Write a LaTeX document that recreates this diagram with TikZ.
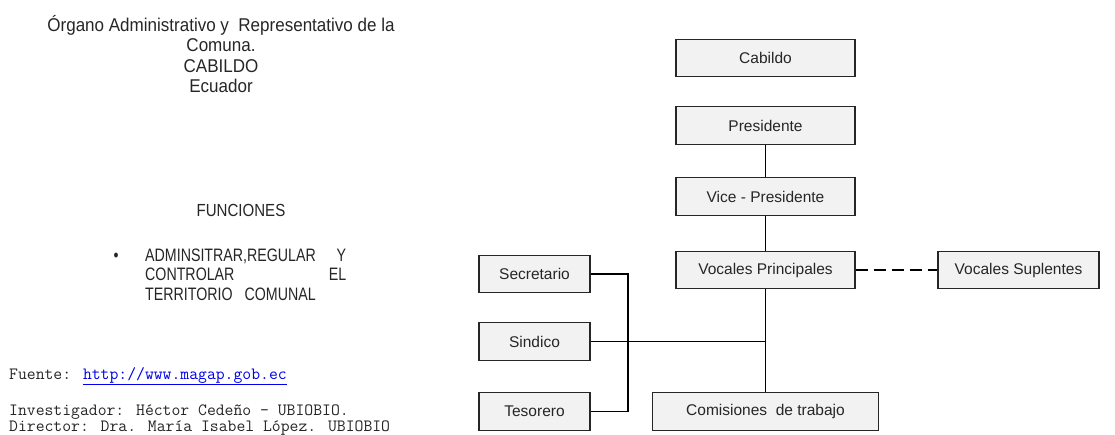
\documentclass[tikz,border=0pt]{standalone}
\usepackage{fontspec}
\setmainfont{Liberation Sans}
\newfontfamily\leftA[FakeStretch=0.92]{Liberation Sans}
\newfontfamily\leftB[FakeStretch=0.79]{Liberation Sans}
\newfontfamily\leftC[FakeStretch=0.86]{Liberation Sans}
\definecolor{boxfill}{HTML}{F2F2F2}
\definecolor{boxline}{HTML}{262626}
\definecolor{linkblue}{HTML}{0000EE}
\begin{document}
\begin{tikzpicture}[x=1pt,y=-1pt,
  orgbox/.style={draw=boxline,line width=1.1pt,fill=boxfill,minimum height=37.5pt,inner sep=0pt,font=\fontsize{15.5}{18}\selectfont,text=black!85},
  conn/.style={line width=1.8pt,black},
  dconn/.style={line width=1.8pt,black,dash pattern=on 12pt off 6pt},
  lefttext/.style={font=\leftA\fontsize{18.5}{20.5}\selectfont,text=black!85,inner sep=0pt},
  funtext/.style={font=\leftC\fontsize{17.5}{20.5}\selectfont,text=black!85,inner sep=0pt},
  bultext/.style={font=\leftB\fontsize{18}{19.5}\selectfont,text=black!85,inner sep=0pt},
  foot/.style={font=\ttfamily\fontsize{17.2}{16.5}\selectfont,text=black!85,inner sep=0pt,anchor=west,align=left}]
\useasboundingbox[fill=white] (0,0) rectangle (1115,434);

% left texts
\node[lefttext,align=center] (title) at (221,54) {Órgano Administrativo y\ \ Representativo de la\\Comuna.\\CABILDO\\ Ecuador};
\node[funtext] (fun) at (241,210) {FUNCIONES};
\node[bultext] (bul) at (116,257.5) {\textbullet};
\node[bultext,anchor=north west,text width=201pt,align=left] (fntext) at (145,248.5)
  {\mbox{ADMINSITRAR,REGULAR}\hfill Y\\CONTROLAR\hfill EL\\TERRITORIO\ \ COMUNAL};

\node[foot] (fuente) at (9,376) {Fuente: {\color{linkblue}\underline{http://www.magap.gob.ec}}};
\node[foot] (inv) at (9,420) {Investigador: Héctor Cedeño – UBIOBIO.\\Director: Dra. María Isabel López. UBIOBIO};

% boxes
\node[orgbox,minimum width=179pt] (cab) at (765.5,58) {Cabildo};
\node[orgbox,minimum width=179pt] (pre) at (765.5,125.5) {Presidente};
\node[orgbox,minimum width=179pt] (vice) at (765.5,196.5) {Vice - Presidente};
\node[orgbox,minimum width=179pt] (vp) at (765.5,270) {Vocales Principales};
\node[orgbox,minimum width=161pt] (vs) at (1018.5,270) {Vocales Suplentes};
\node[orgbox,minimum width=226pt] (com) at (765.5,411.5) {Comisiones\ \ de trabajo};
\node[orgbox,minimum width=111pt] (sec) at (534.5,274) {Secretario};
\node[orgbox,minimum width=111pt] (sin) at (534.5,341.5) {Sindico};
\node[orgbox,minimum width=111pt] (tes) at (534.5,411.5) {Tesorero};

% connectors
\coordinate (bt) at (628,274);
\coordinate (bb) at (628,411.5);
\coordinate (junc) at (765.5,341.5);
\draw[conn] (pre.south) -- (vice.north);
\draw[conn] (vice.south) -- (vp.north);
\draw[conn] (vp.south) -- (com.north);
\draw[dconn] (vp.east) -- (vs.west);
\draw[conn] (sec.east) -- (bt) -- (bb) -- (tes.east);
\draw[conn] (sin.east) -- (junc);
\end{tikzpicture}
\end{document}
